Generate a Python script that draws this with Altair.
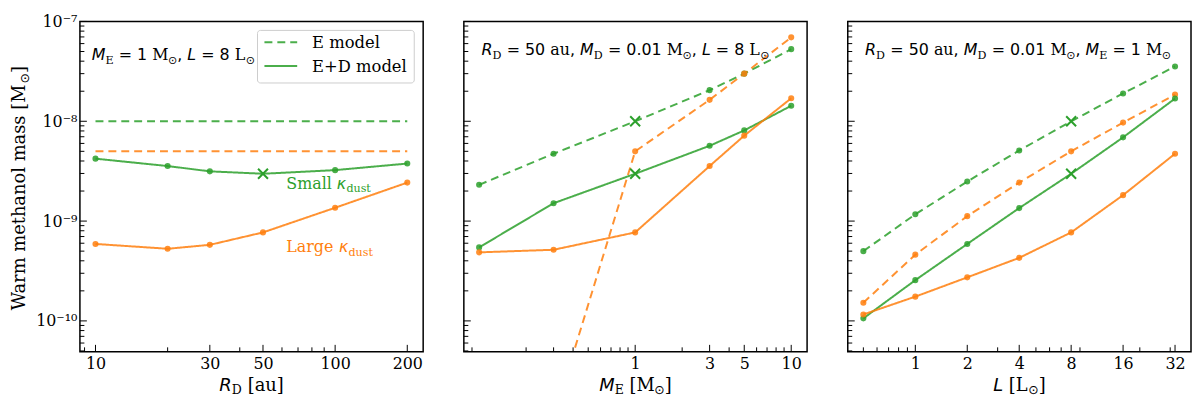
import altair as alt
import pandas as pd

GREEN = "#2ca02c"
ORANGE = "#ff7f0e"
SANS = "DejaVu Sans"
SERIF = "DejaVu Serif"

PW, PH = 346, 333
Y_DOMAIN = [4.9e-11, 1e-7]

# ---------------- data ----------------
# Panel 1: disk radius R_D [au]
RD = [10, 20, 30, 50, 100, 200]
rd_small_ED = [4.22e-9, 3.56e-9, 3.15e-9, 2.98e-9, 3.24e-9, 3.77e-9]
rd_large_ED = [5.9e-10, 5.28e-10, 5.78e-10, 7.7e-10, 1.36e-9, 2.43e-9]
RD_E = [10, 200]
rd_small_E = [1.0e-8, 1.0e-8]
rd_large_E = [5.0e-9, 5.0e-9]

# Panel 2: envelope mass M_E [Msun]
ME = [0.1, 0.3, 1, 3, 5, 10]
me_small_E = [2.31e-9, 4.73e-9, 1.0e-8, 2.05e-8, 3.0e-8, 5.28e-8]
me_large_E = [5e-12, 1.07e-11, 5.0e-9, 1.64e-8, 3.0e-8, 6.93e-8]
me_small_ED = [5.45e-10, 1.51e-9, 2.98e-9, 5.68e-9, 8.1e-9, 1.43e-8]
me_large_ED = [4.86e-10, 5.16e-10, 7.7e-10, 3.56e-9, 7.18e-9, 1.70e-8]

# Panel 3: luminosity L [Lsun]
LUM = [0.5, 1, 2, 4, 8, 16, 32]
l_small_E = [5.0e-10, 1.17e-9, 2.49e-9, 5.1e-9, 1.0e-8, 1.9e-8, 3.54e-8]
l_large_E = [1.52e-10, 4.61e-10, 1.12e-9, 2.43e-9, 5.0e-9, 9.7e-9, 1.85e-8]
l_small_ED = [1.06e-10, 2.56e-10, 5.9e-10, 1.35e-9, 2.98e-9, 6.9e-9, 1.69e-8]
l_large_ED = [1.16e-10, 1.75e-10, 2.73e-10, 4.28e-10, 7.7e-10, 1.82e-9, 4.73e-9]

REF = {1: 50, 2: 1, 3: 8}  # fiducial model (x markers)

# tick values / labels
Y_MAJOR = [1e-10, 1e-9, 1e-8, 1e-7]
Y_MINOR = [k * 10.0 ** e for e in (-11, -10, -9, -8) for k in range(2, 10)
           if Y_DOMAIN[0] <= k * 10.0 ** e <= Y_DOMAIN[1]]
P1_LABELS = [10, 30, 50, 100, 200]
P1_MINOR = [9, 20, 40, 60, 70, 80, 90]
P2_LABELS = [1, 3, 5, 10]
P2_MINOR = [0.09, 0.2, 0.3, 0.4, 0.5, 0.6, 0.7, 0.8, 0.9, 2, 4, 6, 7, 8, 9]
P3_LABELS = [1, 2, 4, 8, 16, 32]
P3_MINOR = [0.5, 0.6, 0.7, 0.8, 0.9, 3, 5, 6, 7, 9, 20, 30]

rows = []
def add(panel, xs, ys, kappa, model, markers=True):
    for xv, yv in zip(xs, ys):
        if not markers:
            m = "none"
        elif kappa == "Small" and xv == REF[panel]:
            m = "x"
        else:
            m = "o"
        rows.append(dict(panel=panel, x=xv, y=yv, kappa=kappa, model=model, marker=m))

add(1, RD_E, rd_small_E, "Small", "E", markers=False)
add(1, RD_E, rd_large_E, "Large", "E", markers=False)
add(1, RD, rd_small_ED, "Small", "E+D")
add(1, RD, rd_large_ED, "Large", "E+D")
add(2, ME, me_small_E, "Small", "E")
add(2, ME, me_large_E, "Large", "E")
add(2, ME, me_small_ED, "Small", "E+D")
add(2, ME, me_large_ED, "Large", "E+D")
add(3, LUM, l_small_E, "Small", "E")
add(3, LUM, l_large_E, "Large", "E")
add(3, LUM, l_small_ED, "Small", "E+D")
add(3, LUM, l_large_ED, "Large", "E+D")
df = pd.DataFrame(rows)

# ---------------- rich text helper ----------------
W_SANS = {" ": .318, ",": .318, ".": .318, "=": .838, "+": .838, "[": .390, "]": .390,
          "D": .770, "E": .632, "L": .557, "M": .863, "R": .695, "S": .635,
          "a": .613, "d": .635, "e": .615, "l": .278, "m": .974, "s": .521, "t": .392,
          "u": .634, "κ": .60, "⊙": .838}
W_SERIF = {" ": .318, ",": .318, ".": .318, "=": .838, "+": .838, "[": .390, "]": .390,
           "D": .830, "E": .730, "L": .694, "M": .995, "R": .770, "S": .685, "W": 1.03,
           "a": .596, "d": .640, "e": .592, "g": .640, "h": .644, "l": .320, "m": .948,
           "n": .644, "o": .602, "r": .478, "s": .513, "t": .402, "u": .644, "⊙": .838}
for d in (W_SANS, W_SERIF):
    for c in "0123456789":
        d[c] = .636

def tw(text, font, size):
    table = W_SANS if font == SANS else W_SERIF
    return sum(table.get(c, .6) for c in text) * size

ONE = pd.DataFrame({"t": [""]})

def rich(segs, x, y, size, color, angle=0, anchor="left"):
    """segs: list of (text, font, italic, sub). Leading/trailing blanks become offsets."""
    sizes = [size * 0.7 if s[3] else size for s in segs]
    total = sum(tw(s[0], s[1], sz) for s, sz in zip(segs, sizes))
    pos = -total / 2 if anchor == "center" else 0.0
    layers = []
    for (text, font, italic, sub), sz in zip(segs, sizes):
        core = text.strip()
        lead = tw(text[:len(text) - len(text.lstrip())], font, sz)
        if core:
            off = pos + lead
            if angle == 0:
                px, py = x + off, y
            else:
                px, py = x, y - off
            kw = dict(align="left", baseline="alphabetic", font=font, fontSize=sz,
                      fontStyle="italic" if italic else "normal", color=color)
            if angle:
                kw["angle"] = angle
            if sub:
                kw["dy"] = 0.22 * size
            layers.append(
                alt.Chart(pd.DataFrame({"t": [core]})).mark_text(**kw).encode(
                    x=alt.value(px), y=alt.value(py), text="t:N"))
        pos += tw(text, font, sz)
    return layers

def T(t, font=SANS, italic=False, sub=False):
    return (t, font, italic, sub)

# ---------------- panel builder ----------------
XPATH = "M-1,-1L1,1M-1,1L1,-1"
ys_scale = alt.Scale(type="log", domain=Y_DOMAIN, nice=False)
color_enc = alt.Color("kappa:N", scale=alt.Scale(domain=["Small", "Large"], range=[GREEN, ORANGE]),
                      legend=None)
dash_enc = alt.StrokeDash("model:N", scale=alt.Scale(domain=["E", "E+D"], range=[[8, 5], [1, 0]]),
                          legend=None)
YLABEL = ("datum.value < 5e-10 ? '10⁻¹⁰' : datum.value < 5e-9 ? '10⁻⁹' : "
          "datum.value < 5e-8 ? '10⁻⁸' : '10⁻⁷'")

def panel(idx, xdomain, xlabels, xminor, extras):
    d = df[df.panel == idx]
    X = alt.X("x:Q", scale=alt.Scale(type="log", domain=xdomain, nice=False),
              axis=alt.Axis(values=xlabels, format="~g", ticks=False, domain=False, grid=False,
                            labelFont=SERIF, labelFontSize=16, labelPadding=4,
                            labelOverlap=False, labelFlush=False, labelColor="black", title=None))
    if idx == 1:
        yaxis = alt.Axis(values=Y_MAJOR, labelExpr=YLABEL, ticks=False, domain=False, grid=False,
                         labelFont=SERIF, labelFontSize=16, labelPadding=3, labelOverlap=False,
                         labelFlush=False, labelColor="black", labelBaseline="middle", title=None)
    else:
        yaxis = None
    Y = alt.Y("y:Q", scale=ys_scale, axis=yaxis)

    base = alt.Chart(d)
    lines = base.mark_line(strokeWidth=2, opacity=0.85, clip=True).encode(
        x=X, y=Y, color=color_enc, strokeDash=dash_enc)
    dots = base.transform_filter("datum.marker == 'o'").mark_circle(
        size=38, opacity=0.85, clip=True).encode(x=X, y=Y, color=color_enc)
    crosses = base.transform_filter("datum.marker == 'x'").mark_point(
        shape=XPATH, size=100, filled=False, strokeWidth=2, opacity=1, clip=True).encode(
        x=X, y=Y, color=color_enc)

    xt_major = alt.Chart(pd.DataFrame({"x": xlabels})).mark_rule(color="black", strokeWidth=1).encode(
        x=X, y=alt.value(PH), y2=alt.value(PH - 7))
    xt_minor = alt.Chart(pd.DataFrame({"x": xminor})).mark_rule(color="black", strokeWidth=1).encode(
        x=X, y=alt.value(PH), y2=alt.value(PH - 4.5))
    yt_major = alt.Chart(pd.DataFrame({"y": Y_MAJOR})).mark_rule(color="black", strokeWidth=1).encode(
        y=Y, x=alt.value(0), x2=alt.value(7))
    yt_minor = alt.Chart(pd.DataFrame({"y": Y_MINOR})).mark_rule(color="black", strokeWidth=1).encode(
        y=Y, x=alt.value(0), x2=alt.value(4.5))

    layers = [lines, dots, crosses, xt_major, xt_minor, yt_major, yt_minor] + extras
    return alt.layer(*layers).properties(width=PW, height=PH)

# ---------------- texts ----------------
p1_extra = []
p1_extra += rich([T("M", italic=True), T("E", SERIF, sub=True), T(" = 1 "), T("M", SERIF),
                  T("⊙", sub=True), T(", "), T("L", italic=True), T(" = 8 "), T("L", SERIF),
                  T("⊙", sub=True)], 12, 39, 16, "black")
p1_extra += rich([T("Small ", SERIF), T("κ", italic=True), T("dust", SERIF, sub=True)],
                 208, 168.7, 16, GREEN)
p1_extra += rich([T("Large ", SERIF), T("κ", italic=True), T("dust", SERIF, sub=True)],
                 208, 232.7, 16, ORANGE)
# legend
p1_extra.append(alt.Chart(ONE).mark_rect(fill="white", fillOpacity=0.8, stroke="#cccccc",
                                         strokeWidth=1, cornerRadius=3).encode(
    x=alt.value(179), x2=alt.value(337), y=alt.value(9), y2=alt.value(62)))
p1_extra.append(alt.Chart(ONE).mark_rule(color=GREEN, strokeWidth=2, strokeDash=[8, 5], opacity=0.85).encode(
    x=alt.value(186), x2=alt.value(219), y=alt.value(21)))
p1_extra.append(alt.Chart(ONE).mark_rule(color=GREEN, strokeWidth=2, opacity=0.85).encode(
    x=alt.value(186), x2=alt.value(219), y=alt.value(45)))
p1_extra += rich([T("E model", SERIF)], 234, 27, 16.5, "black")
p1_extra += rich([T("E+D model", SERIF)], 234, 51, 16.5, "black")
# axis titles
p1_extra += rich([T("Warm methanol mass [M", SERIF), T("⊙", sub=True), T("]", SERIF)],
                 -55, 168, 18, "black", angle=270, anchor="center")
p1_extra += rich([T("R", italic=True), T("D", SERIF, sub=True), T(" [au]", SERIF)],
                 PW / 2, 372, 18, "black", anchor="center")

p2_extra = []
p2_extra += rich([T("R", italic=True), T("D", SERIF, sub=True), T(" = 50 "), T("au", SERIF), T(", "),
                  T("M", italic=True), T("D", SERIF, sub=True), T(" = 0.01 "), T("M", SERIF),
                  T("⊙", sub=True), T(", "), T("L", italic=True), T(" = 8 "), T("L", SERIF),
                  T("⊙", sub=True)], 17.7, 34.3, 16, "black")
p2_extra += rich([T("M", italic=True), T("E", SERIF, sub=True), T(" [M", SERIF), T("⊙", sub=True),
                  T("]", SERIF)], PW / 2, 372, 18, "black", anchor="center")

p3_extra = []
p3_extra += rich([T("R", italic=True), T("D", SERIF, sub=True), T(" = 50 "), T("au", SERIF), T(", "),
                  T("M", italic=True), T("D", SERIF, sub=True), T(" = 0.01 "), T("M", SERIF),
                  T("⊙", sub=True), T(", "), T("M", italic=True), T("E", SERIF, sub=True),
                  T(" = 1 "), T("M", SERIF), T("⊙", sub=True)], 17.4, 34.3, 16, "black")
p3_extra += rich([T("L", italic=True), T(" [L", SERIF), T("⊙", sub=True), T("]", SERIF)],
                 PW / 2, 372, 18, "black", anchor="center")

p1 = panel(1, [8.61, 233], P1_LABELS, P1_MINOR, p1_extra)
p2 = panel(2, [0.0798, 12.64], P2_LABELS, P2_MINOR, p2_extra)
p3 = panel(3, [0.406, 39.6], P3_LABELS, P3_MINOR, p3_extra)

chart = alt.hconcat(p1, p2, p3, spacing=38).properties(
    padding={"left": 2.5, "right": 0, "top": 3, "bottom": 0},
    background="white",
).configure_view(stroke="black", strokeWidth=1.5)

chart.save("out.html", embed_options={"renderer": "svg", "actions": False})
